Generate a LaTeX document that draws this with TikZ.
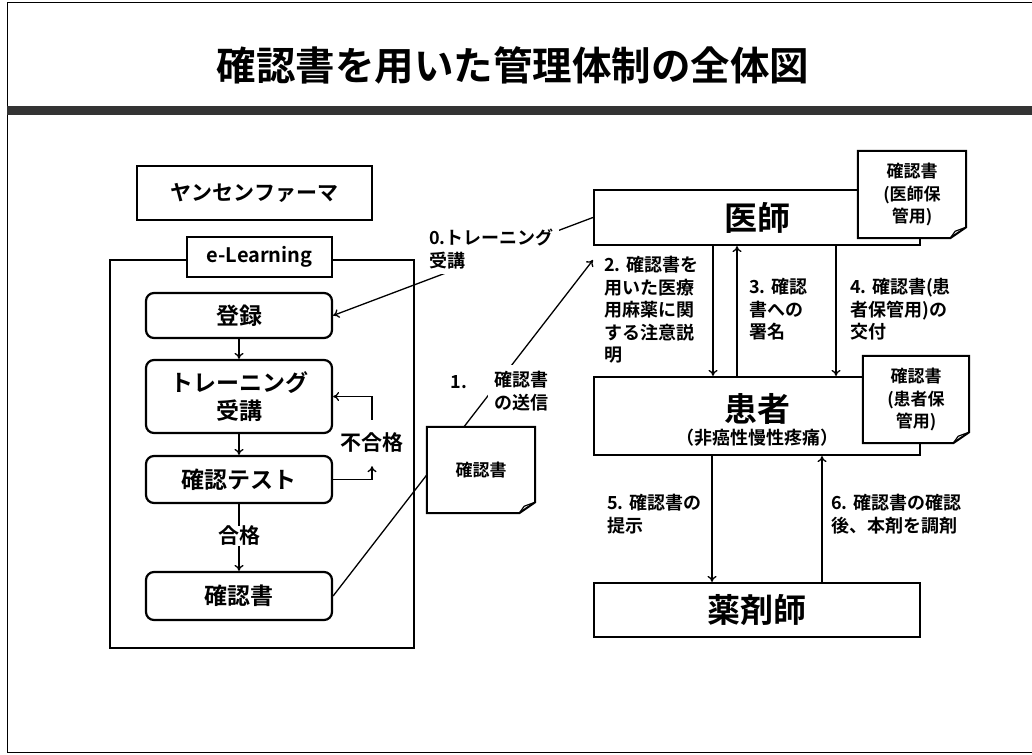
\documentclass[tikz,border=0pt]{standalone}
\usepackage{fontspec}
\setmainfont{Noto Sans CJK JP}[BoldFont={Noto Sans CJK JP Bold}]
\usetikzlibrary{arrows.meta,calc}
\newcommand\drawnote[1]{%
  \draw[line width=2pt,line join=miter] (#1.north west) -- (#1.north east) -- ($(#1.south east)+(0,-11)$) -- ($(#1.south east)+(-16,0)$) -- (#1.south west) -- cycle;
  \draw[line width=1.2pt] ($(#1.south east)+(0,-11)$) -- ($(#1.south east)+(-11,-7)$) -- ($(#1.south east)+(-16,0)$);}
\tikzset{
  sq/.style={draw,line width=2.2pt,inner sep=0pt,align=center,font=\bfseries\fontsize{21}{25}\selectfont},
  rbox/.style={draw,line width=2.2pt,rounded corners=8pt,minimum width=186pt,inner sep=0pt,align=center,font=\bfseries\fontsize{23}{28}\selectfont},
  bigbox/.style={draw,line width=2.2pt,minimum width=326pt,inner sep=0pt,font=\bfseries\fontsize{33}{36}\selectfont},
  note/.style={fill=white,inner sep=0pt,align=center,font=\bfseries\fontsize{17}{22.5}\selectfont},
  lab/.style={inner sep=0pt,align=left,anchor=north west,font=\bfseries\fontsize{18}{22.5}\selectfont},
  arr/.style={line width=1.3pt,-{To[length=6pt,width=9pt]}},
  ln/.style={line width=1.3pt}
}
\begin{document}
\begin{tikzpicture}[x=1pt,y=-1pt]
\useasboundingbox (0,0) rectangle (1032,754);
% frame
\draw[line width=1pt] (1032,3) -- (7,3) -- (7,752) -- (1032,752);
\fill[black!80] (7,106) rectangle (1032,115);
\node[font=\bfseries\fontsize{39.5}{44}\selectfont] (title) at (513,65) {確認書を用いた管理体制の全体図};
% left panel
\node[sq,minimum width=235pt,minimum height=54pt] (janssen) at (254.5,193) {ヤンセンファーマ};
\node[draw,line width=2.6pt,minimum width=304pt,minimum height=388pt,inner sep=0pt] (cont) at (262,454) {};
\node[sq,fill=white,minimum width=145pt,minimum height=40pt,font=\bfseries\fontsize{20}{24}\selectfont] (elearn) at (259.5,257) {e-Learning};
\node[rbox,minimum height=45pt] (reg) at (239,315.5) {登録};
\node[rbox,minimum height=73pt] (train) at (239,396.5) {トレーニング\\受講};
\node[rbox,minimum height=47pt] (test) at (239,479.5) {確認テスト};
\node[rbox,minimum height=48pt] (cert) at (239,596) {確認書};
\node[inner sep=0pt,font=\bfseries\fontsize{21}{24}\selectfont] (pass) at (239,536) {合格};
\node[inner sep=0pt,minimum height=46pt,font=\bfseries\fontsize{21}{24}\selectfont] (fail) at (372,443) {不合格};
\draw[arr] (reg) -- (train);
\draw[arr] (train) -- (test);
\draw[ln] (test) -- (pass);
\draw[arr] (pass) -- (cert);
\draw[arr] (test.east) -| (fail.south);
\draw[arr] (fail.north) |- (train.east);
% right panel
\node[bigbox,minimum height=55pt] (doc) at (757,217.5) {医師};
\node[bigbox,minimum height=78pt] (pat) at (757,416) {};
\node[inner sep=0pt,font=\bfseries\fontsize{33}{36}\selectfont] (patname) at (757,409) {患者};
\node[inner sep=0pt,font=\bfseries\fontsize{18}{20}\selectfont] (patsub) at (757,438) {（非癌性慢性疼痛）};
\node[bigbox,minimum height=54pt] (pharm) at (757,610) {薬剤師};
\coordinate (x2) at (713,0);
\coordinate (x3) at (737,0);
\coordinate (x4) at (836,0);
\coordinate (x5) at (712,0);
\coordinate (x6) at (822,0);
\draw[arr] (doc.south -| x2) -- (pat.north -| x2);
\draw[arr] (pat.north -| x3) -- (doc.south -| x3);
\draw[arr] (doc.south -| x4) -- (pat.north -| x4);
\draw[arr] (pat.south -| x5) -- (pharm.north -| x5);
\draw[arr] (pharm.north -| x6) -- (pat.south -| x6);
% connectors 0 and 1
\coordinate (c1end) at (593,260);
\draw[arr] (doc.west) -- (reg.east);
\draw[arr] (cert.east) -- (c1end);
% labels
\node[lab,fill=white,inner sep=5pt] (l0) at (424,224) {0.トレーニング\\受講};
\node[inner sep=0pt,font=\bfseries\fontsize{18}{22.5}\selectfont] (l1a) at (459,382) {1.};
\node[fill=white,inner sep=6pt,align=center,font=\bfseries\fontsize{18}{22.5}\selectfont] (l1b) at (521,391) {確認書\\の送信};
\node[lab] (l2) at (604,256) {2. 確認書を\\用いた医療\\用麻薬に関\\する注意説\\明};
\node[lab] (l3) at (749,278) {3. 確認\\書への\\署名};
\node[lab] (l4) at (850,278) {4. 確認書(患\\者保管用)の\\交付};
\node[lab] (l5) at (607,494) {5. 確認書の\\提示};
\node[lab] (l6) at (831,494) {6. 確認書の確認\\後、本剤を調剤};
% notes
\node[note,minimum width=108pt,minimum height=87pt] (ndoc) at (912,194.5) {確認書\\(医師保\\管用)};
\drawnote{ndoc}
\node[note,minimum width=106pt,minimum height=87pt] (npat) at (916,399.5) {確認書\\(患者保\\管用)};
\drawnote{npat}
\node[note,minimum width=108pt,minimum height=86pt] (nmid) at (481,470) {確認書};
\drawnote{nmid}
\end{tikzpicture}
\end{document}
